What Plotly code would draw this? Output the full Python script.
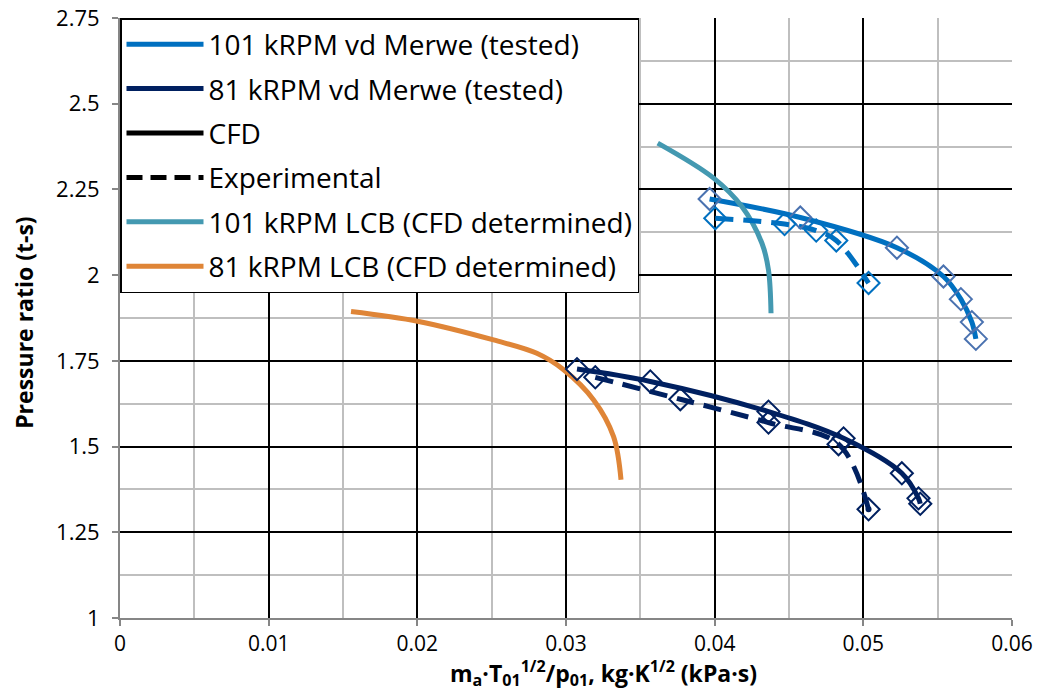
import plotly.graph_objects as go

# 101 kRPM vd Merwe - CFD (solid) and Experimental (dashed)
x101_cfd = [0.03966, 0.04576, 0.05226, 0.05539, 0.05656, 0.0573, 0.05757]
y101_cfd = [2.222, 2.168, 2.080, 1.996, 1.930, 1.863, 1.814]
x101_exp = [0.04004, 0.0447, 0.04683, 0.04818, 0.05035]
y101_exp = [2.166, 2.149, 2.130, 2.101, 1.977]

# 81 kRPM vd Merwe - CFD (solid) and Experimental (dashed)
x81_cfd = [0.03074, 0.03567, 0.04362, 0.04867, 0.05259, 0.05371, 0.05383]
y81_cfd = [1.726, 1.690, 1.602, 1.524, 1.422, 1.349, 1.333]
x81_exp = [0.03197, 0.03769, 0.04362, 0.04833, 0.05035]
y81_exp = [1.702, 1.638, 1.570, 1.507, 1.317]

# LCB curves (CFD determined)
x101_lcb = [0.03617, 0.03993, 0.04183, 0.04318, 0.04362, 0.04379]
y101_lcb = [2.385, 2.283, 2.200, 2.093, 2.015, 1.889]
x81_lcb = [0.01554, 0.02009, 0.02513, 0.02804, 0.02984, 0.03186, 0.0332, 0.0337]
y81_lcb = [1.894, 1.865, 1.811, 1.772, 1.724, 1.636, 1.529, 1.403]

x_ticks = [0, 0.01, 0.02, 0.03, 0.04, 0.05, 0.06]
x_tick_labels = ["0", "0.01", "0.02", "0.03", "0.04", "0.05", "0.06"]
y_ticks = [1, 1.25, 1.5, 1.75, 2, 2.25, 2.5, 2.75]
y_tick_labels = ["1", "1.25", "1.5", "1.75", "2", "2.25", "2.5", "2.75"]

x_title = "m<sub>a</sub>·T<sub>01</sub><sup>1/2</sup>/p<sub>01</sub>, kg·K<sup>1/2</sup> (kPa·s)"
y_title = "Pressure ratio (t-s)"

C101 = "#0070C0"
C81 = "#002060"
C101M = "#4A72B0"
CTEAL = "#4499B1"
CORANGE = "#DF8537"
FONT = "Open Sans"
LW = 5

fig = go.Figure()

def line(x, y, color, name, dash="solid", show=True, group=None):
    fig.add_trace(go.Scatter(
        x=x, y=y, mode="lines", name=name, showlegend=show,
        legendgroup=group or name,
        line=dict(color=color, width=LW, dash=dash, shape="spline", smoothing=1.0),
        hoverinfo="skip"))

def marks(x, y, color):
    fig.add_trace(go.Scatter(
        x=x, y=y, mode="markers", showlegend=False,
        marker=dict(symbol="diamond-open", size=17, color=color, line=dict(color=color, width=2)),
        hoverinfo="skip"))

# legend-bearing lines
line(x101_cfd, y101_cfd, C101, "101 kRPM vd Merwe (tested)", group="g1")
line(x81_cfd, y81_cfd, C81, "81 kRPM vd Merwe (tested)", group="g2")
fig.add_trace(go.Scatter(x=[None], y=[None], mode="lines", name="CFD", legendgroup="g3",
                         line=dict(color="black", width=LW)))
fig.add_trace(go.Scatter(x=[None], y=[None], mode="lines", name="Experimental", legendgroup="g4",
                         line=dict(color="black", width=LW, dash="16px,8px")))
line(x101_lcb, y101_lcb, CTEAL, "101 kRPM LCB (CFD determined)", group="g5")
line(x81_lcb, y81_lcb, CORANGE, "81 kRPM LCB (CFD determined)", group="g6")
line(x101_exp, y101_exp, C101, "101 exp", dash="18px,10px", show=False, group="g1")
line(x81_exp, y81_exp, C81, "81 exp", dash="18px,10px", show=False, group="g2")

marks(x101_cfd, y101_cfd, C101M)
marks(x101_exp, y101_exp, C101)
marks(x81_cfd, y81_cfd, C81)
marks(x81_exp, y81_exp, C81)
fig.add_trace(go.Scatter(x=[x81_exp[-1]], y=[y81_exp[-1]], mode="markers", showlegend=False,
                         marker=dict(symbol="circle", size=6, color=C81), hoverinfo="skip"))

axis_common = dict(
    showgrid=True, gridcolor="black", gridwidth=2,
    showline=True, linecolor="#868686", linewidth=2,
    ticks="outside", ticklen=6, tickcolor="#868686", tickwidth=1.5,
    zeroline=False, automargin=False,
)

fig.update_xaxes(
    range=[0, 0.06], tickvals=x_ticks, ticktext=x_tick_labels, ticklabelstandoff=0,
    tickfont=dict(family=FONT, size=21, color="black"),
    minor=dict(dtick=0.005, tick0=0, showgrid=True, gridcolor="#BFBFBF", gridwidth=2, ticks=""),
    **axis_common)
fig.update_yaxes(
    range=[1, 2.75], tickvals=y_ticks, ticktext=y_tick_labels, ticklabelstandoff=8,
    tickfont=dict(family=FONT, size=22, color="black"),
    minor=dict(dtick=0.125, tick0=1, showgrid=True, gridcolor="#BFBFBF", gridwidth=2, ticks=""),
    **axis_common)

fig.add_annotation(text=x_title, xref="paper", yref="paper", x=0.5415, y=-0.1245,
                   xanchor="center", yanchor="bottom", showarrow=False,
                   font=dict(family=FONT, size=23, color="black", weight="bold"))
fig.add_annotation(text=y_title, xref="paper", yref="paper", x=-0.1076, y=0.492,
                   xanchor="center", yanchor="middle", showarrow=False, textangle=-90,
                   font=dict(family=FONT, size=23, color="black", weight="bold"))

fig.update_layout(
    width=1038, height=694,
    margin=dict(l=120, r=26, t=18, b=76),
    plot_bgcolor="white", paper_bgcolor="white",
    font=dict(family=FONT, color="black"),
    legend=dict(x=0, y=1, xanchor="left", yanchor="top",
                bgcolor="white", bordercolor="black", borderwidth=1.5,
                font=dict(family=FONT, size=28, color="black"),
                itemwidth=77, tracegroupgap=5, traceorder="grouped"),
)

fig.write_html("out.html")
